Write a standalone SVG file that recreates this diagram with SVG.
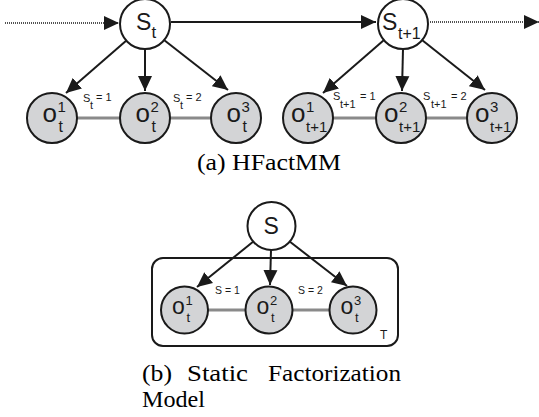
<svg xmlns="http://www.w3.org/2000/svg" width="539" height="417" viewBox="0 0 539 417">
<style>
.hid{fill:#fff;stroke:#1a1a1a;stroke-width:2}
.obs{fill:#d3d4d6;stroke:#1a1a1a;stroke-width:2}
.arr{stroke:#1a1a1a;stroke-width:2;fill:none}
.dot{stroke:#1a1a1a;stroke-width:1.6;stroke-dasharray:1 1;fill:none}
.fac{stroke:#8a8a8a;stroke-width:3;fill:none}
.sf{font-family:"Liberation Sans",Arial,sans-serif;fill:#1a1a1a}
.el{font-size:11px}
.cap{font-family:"Liberation Serif","Times New Roman",serif;font-size:24px;fill:#000}
</style>
<defs>
<marker id="ah" markerUnits="userSpaceOnUse" markerWidth="16" markerHeight="16" viewBox="0 0 16 16" refX="15" refY="8" orient="auto">
<path d="M0,1 L15,8 L0,15 Z" fill="#1a1a1a"/>
</marker>
</defs>
<g id="connectors">
<line class="dot" x1="5" y1="23" x2="119" y2="23" marker-end="url(#ah)"/>
<line class="arr" x1="171" y1="22" x2="376" y2="22" marker-end="url(#ah)"/>
<line class="dot" x1="430" y1="22" x2="539" y2="22" marker-end="url(#ah)"/>
<line class="arr" x1="127" y1="40" x2="66" y2="93" marker-end="url(#ah)"/>
<line class="arr" x1="145" y1="49" x2="145" y2="91" marker-end="url(#ah)"/>
<line class="arr" x1="164" y1="40" x2="228" y2="90" marker-end="url(#ah)"/>
<line class="arr" x1="384" y1="40" x2="323" y2="93" marker-end="url(#ah)"/>
<line class="arr" x1="403" y1="49" x2="402" y2="91" marker-end="url(#ah)"/>
<line class="arr" x1="422" y1="40" x2="485" y2="90" marker-end="url(#ah)"/>
<line class="fac" x1="77" y1="118" x2="120" y2="118"/>
<line class="fac" x1="170" y1="118" x2="211" y2="118"/>
<line class="fac" x1="333" y1="118" x2="376" y2="118"/>
<line class="fac" x1="426" y1="118" x2="467" y2="118"/>
<line class="arr" x1="254" y1="241" x2="197" y2="287" marker-end="url(#ah)"/>
<line class="arr" x1="271" y1="250" x2="270" y2="285" marker-end="url(#ah)"/>
<line class="arr" x1="289" y1="241" x2="347" y2="286" marker-end="url(#ah)"/>
<line class="fac" x1="208" y1="310" x2="246" y2="310"/>
<line class="fac" x1="293" y1="310" x2="330" y2="310"/>
<text class="sf el" x="83" y="102">S</text><text class="sf el" x="90" y="109">t</text><text class="sf el" x="96" y="101">= 1</text>
<text class="sf el" x="173" y="102">S</text><text class="sf el" x="180" y="109">t</text><text class="sf el" x="186" y="101">= 2</text>
<text class="sf el" x="333" y="100">S</text><text class="sf el" x="340" y="108">t+1</text><text class="sf el" x="360" y="100">= 1</text>
<text class="sf el" x="423" y="100">S</text><text class="sf el" x="431" y="108">t+1</text><text class="sf el" x="451" y="100">= 2</text>
<text class="sf" font-size="10.5" x="215" y="294">S = 1</text>
<text class="sf" font-size="10.5" x="298" y="294">S = 2</text>
</g>
<g id="plate">
<rect x="152" y="258" width="246" height="88" rx="11" fill="none" stroke="#1a1a1a" stroke-width="2"/>
<text class="sf" font-size="12" x="380" y="339">T</text>
</g>
<g id="S_t"><circle class="hid" cx="145" cy="24" r="25"/><text class="sf" font-size="23" x="136" y="30">S</text><text class="sf" font-size="17" x="151.5" y="38">t</text></g>
<g id="S_t1"><circle class="hid" cx="403" cy="24" r="25"/><text class="sf" font-size="23" x="382" y="30">S</text><text class="sf" font-size="16" x="398" y="39">t+1</text></g>
<g id="o1_t"><circle class="obs" cx="52" cy="118" r="25"/><text class="sf" font-size="26" x="42.5" y="122">o</text><text class="sf" font-size="15" x="57.5" y="112">1</text><text class="sf" font-size="16" x="58.5" y="132">t</text></g>
<g id="o2_t"><circle class="obs" cx="145" cy="118" r="25"/><text class="sf" font-size="26" x="135.5" y="122">o</text><text class="sf" font-size="15" x="150.5" y="112">2</text><text class="sf" font-size="16" x="151.5" y="132">t</text></g>
<g id="o3_t"><circle class="obs" cx="236" cy="118" r="25"/><text class="sf" font-size="26" x="226.5" y="122">o</text><text class="sf" font-size="15" x="241.5" y="112">3</text><text class="sf" font-size="16" x="242.5" y="132">t</text></g>
<g id="o1_t1"><circle class="obs" cx="308" cy="118" r="25"/><text class="sf" font-size="26" x="291" y="122">o</text><text class="sf" font-size="15" x="306" y="112">1</text><text class="sf" font-size="15" x="306" y="132">t+1</text></g>
<g id="o2_t1"><circle class="obs" cx="401" cy="118" r="25"/><text class="sf" font-size="26" x="384" y="122">o</text><text class="sf" font-size="15" x="399" y="112">2</text><text class="sf" font-size="15" x="399" y="132">t+1</text></g>
<g id="o3_t1"><circle class="obs" cx="492" cy="118" r="25"/><text class="sf" font-size="26" x="475" y="122">o</text><text class="sf" font-size="15" x="490" y="112">3</text><text class="sf" font-size="15" x="490" y="132">t+1</text></g>
<g id="S"><circle class="hid" cx="271.5" cy="226" r="24"/><text class="sf" font-size="23" x="263.5" y="234">S</text></g>
<g id="o1"><circle class="obs" cx="184.5" cy="310" r="23.5"/><text class="sf" font-size="23" x="172" y="314">o</text><text class="sf" font-size="13" x="185.5" y="305">1</text><text class="sf" font-size="13" x="186.5" y="322">t</text></g>
<g id="o2"><circle class="obs" cx="269" cy="310" r="23.5"/><text class="sf" font-size="23" x="256.5" y="314">o</text><text class="sf" font-size="13" x="270" y="305">2</text><text class="sf" font-size="13" x="271" y="322">t</text></g>
<g id="o3"><circle class="obs" cx="353" cy="310" r="23.5"/><text class="sf" font-size="23" x="340.5" y="314">o</text><text class="sf" font-size="13" x="354" y="305">3</text><text class="sf" font-size="13" x="355" y="322">t</text></g>
<g id="captions">
<text class="cap" x="197" y="170" textLength="144" lengthAdjust="spacingAndGlyphs">(a) HFactMM</text>
<text class="cap" x="142" y="381" textLength="30" lengthAdjust="spacingAndGlyphs">(b)</text>
<text class="cap" x="187" y="381" textLength="61" lengthAdjust="spacingAndGlyphs">Static</text>
<text class="cap" x="268" y="381" textLength="133" lengthAdjust="spacingAndGlyphs">Factorization</text>
<text class="cap" x="142" y="407" textLength="63" lengthAdjust="spacingAndGlyphs">Model</text>
</g>
</svg>
